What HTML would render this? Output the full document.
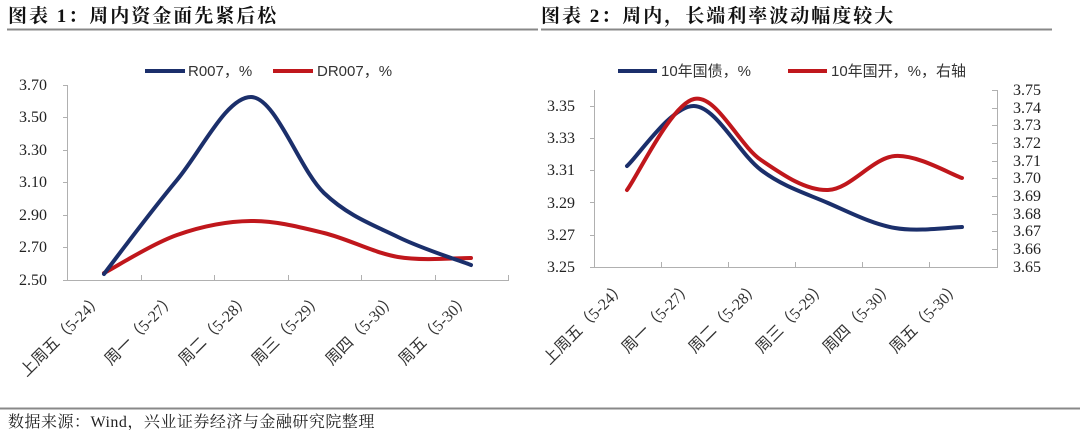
<!DOCTYPE html>
<html><head><meta charset="utf-8"><style>
body{margin:0;background:#fff;width:1080px;height:430px;overflow:hidden}
svg{display:block}
.t{font-family:"Liberation Serif","Noto Serif CJK SC",serif;font-size:16px;fill:#222}
.h{font-family:"Liberation Serif","Noto Serif CJK SC",serif;font-size:19px;font-weight:bold;fill:#111;letter-spacing:2px}
.f{font-family:"Liberation Serif","Noto Serif CJK SC",serif;font-size:16px;fill:#222;letter-spacing:0.5px}
.l{font-family:"Liberation Sans","Noto Sans CJK SC",sans-serif;font-size:15px;fill:#333}
.x{font-family:"Liberation Serif","Noto Sans CJK SC",sans-serif;font-size:16px;fill:#333}
</style></head><body>
<svg width="1080" height="430" viewBox="0 0 1080 430">
<text class="h" x="8" y="22">图表 1：周内资金面先紧后松</text>
<text class="h" x="541" y="22">图表 2：周内，长端利率波动幅度较大</text>
<line x1="7" y1="29.5" x2="538" y2="29.5" stroke="#888" stroke-width="2"/>
<line x1="541" y1="29.5" x2="1052" y2="29.5" stroke="#888" stroke-width="2"/>
<line x1="0" y1="408.5" x2="1080" y2="408.5" stroke="#888" stroke-width="2"/>
<text class="f" x="8" y="427">数据来源：Wind，兴业证券经济与金融研究院整理</text>

<!-- chart 1 -->
<g stroke="#b0b0b0" stroke-width="1" fill="none">
<line x1="67.5" y1="85" x2="67.5" y2="280"/>
<line x1="67" y1="280.5" x2="509" y2="280.5"/>
<path d="M63 85.5h5M63 117.5h5M63 150.5h5M63 182.5h5M63 215.5h5M63 247.5h5M63 280.5h5"/>
<path d="M141.5 280v-5M214.5 280v-5M288.5 280v-5M361.5 280v-5M435.5 280v-5M508.5 280v-5"/>
</g>
<g class="t" text-anchor="end">
<text x="47" y="90">3.70</text><text x="47" y="122">3.50</text><text x="47" y="155">3.30</text>
<text x="47" y="187">3.10</text><text x="47" y="220">2.90</text><text x="47" y="252">2.70</text><text x="47" y="285">2.50</text>
</g>
<line x1="145" y1="71" x2="185" y2="71" stroke="#1b2f6b" stroke-width="4"/>
<text class="l" x="188" y="76">R007，%</text>
<line x1="273" y1="71" x2="313" y2="71" stroke="#c0171c" stroke-width="4"/>
<text class="l" x="317" y="76">DR007，%</text>
<path fill="none" stroke="#c0171c" stroke-width="4" stroke-linecap="round" d="M104 273C116.2 266.7 152.5 243.7 177 235C201.5 226.3 226.5 221.3 251 221C275.5 220.7 299.5 227 324 233C348.5 239 373.5 252.8 398 257C422.5 261.2 458.8 257.8 471 258"/>
<path fill="none" stroke="#1b2f6b" stroke-width="4" stroke-linecap="round" d="M104 274C116 258 152.5 209.5 177 180C201.5 150.5 226.5 97 251 97C275.5 97 299.5 169.7 324 193C348.5 216.3 373.5 225 398 237C422.5 249 458.8 260.3 471 265"/>
<g class="x" text-anchor="end">
<text transform="translate(104,300) rotate(-45)">上周五（5-24）</text>
<text transform="translate(177,300) rotate(-45)">周一（5-27）</text>
<text transform="translate(251,300) rotate(-45)">周二（5-28）</text>
<text transform="translate(324,300) rotate(-45)">周三（5-29）</text>
<text transform="translate(398,300) rotate(-45)">周四（5-30）</text>
<text transform="translate(471,300) rotate(-45)">周五（5-30）</text>
</g>

<!-- chart 2 -->
<g stroke="#b0b0b0" stroke-width="1" fill="none">
<line x1="594.5" y1="90" x2="594.5" y2="267"/>
<line x1="997.5" y1="90" x2="997.5" y2="267"/>
<line x1="594" y1="267.5" x2="998" y2="267.5"/>
<path d="M590 106.5h5M590 138.5h5M590 170.5h5M590 202.5h5M590 235.5h5M590 267.5h5"/>
<path d="M992 90.5h6M992 108.5h6M992 125.5h6M992 143.5h6M992 161.5h6M992 178.5h6M992 196.5h6M992 214.5h6M992 231.5h6M992 249.5h6M992 267.5h6"/>
<path d="M661.5 267v-5M728.5 267v-5M795.5 267v-5M862.5 267v-5M929.5 267v-5"/>
</g>
<g class="t" text-anchor="end">
<text x="575" y="111">3.35</text><text x="575" y="143">3.33</text><text x="575" y="175">3.31</text>
<text x="575" y="208">3.29</text><text x="575" y="240">3.27</text><text x="575" y="272">3.25</text>
</g>
<g class="t">
<text x="1013" y="95">3.75</text><text x="1013" y="113">3.74</text><text x="1013" y="130">3.73</text>
<text x="1013" y="148">3.72</text><text x="1013" y="166">3.71</text><text x="1013" y="183">3.70</text>
<text x="1013" y="201">3.69</text><text x="1013" y="219">3.68</text><text x="1013" y="236">3.67</text>
<text x="1013" y="254">3.66</text><text x="1013" y="272">3.65</text>
</g>
<line x1="618" y1="71" x2="657" y2="71" stroke="#1b2f6b" stroke-width="4"/>
<text class="l" x="661" y="76">10年国债，%</text>
<line x1="788" y1="71" x2="827" y2="71" stroke="#c0171c" stroke-width="4"/>
<text class="l" x="831" y="76">10年国开，%，右轴</text>
<path fill="none" stroke="#1b2f6b" stroke-width="4" stroke-linecap="round" d="M627 166C638.2 156 671.7 105.3 694 106C716.3 106.7 738.7 153.2 761 170C783.3 186.8 805.7 193.3 828 203C850.3 212.7 872.7 224.3 895 228C917.3 232 950.8 227.2 962 227"/>
<path fill="none" stroke="#c0171c" stroke-width="4" stroke-linecap="round" d="M627 190C638.2 174.8 671.7 104 694 99C716.3 94 738.7 144.8 761 160C783.3 175.2 805.7 190.7 828 190C850.3 189.3 872.7 157.7 895 156C917.3 154.3 950.8 174.3 962 178"/>
<g class="x" text-anchor="end">
<text transform="translate(627,288) rotate(-45)">上周五（5-24）</text>
<text transform="translate(694,288) rotate(-45)">周一（5-27）</text>
<text transform="translate(761,288) rotate(-45)">周二（5-28）</text>
<text transform="translate(828,288) rotate(-45)">周三（5-29）</text>
<text transform="translate(895,288) rotate(-45)">周四（5-30）</text>
<text transform="translate(962,288) rotate(-45)">周五（5-30）</text>
</g>
</svg>
</body></html>
